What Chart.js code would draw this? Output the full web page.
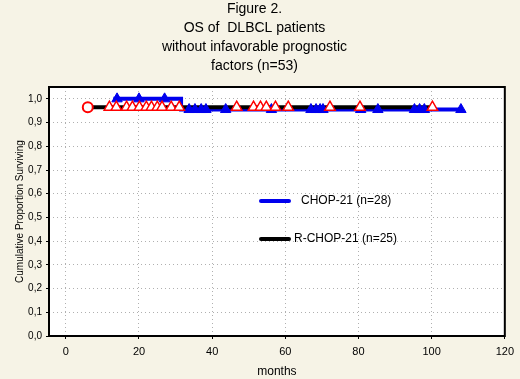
<!DOCTYPE html>
<html>
<head>
<meta charset="utf-8">
<script src="https://cdn.jsdelivr.net/npm/chart.js@4"></script>
<style>
  html, body { margin: 0; padding: 0; background: #f6f3e6; }
  #wrap { width: 520px; height: 379px; }
</style>
</head>
<body>
<div id="wrap"><canvas id="osChart" width="520" height="379"></canvas></div>
<script>
// survival curves (months, cumulative proportion surviving)
const chopMonths = [13, 31.5, 108];
const chopSurv = [1.0, 0.955, 0.955];
const rchopMonths = [6, 100];
const rchopSurv = [0.965, 0.965];

// event (complete) on R-CHOP curve
const rchopEventMonths = [6];

// censored observations
const chopCensored = [14, 20, 27, 33.7, 35.3, 37, 38.3, 43.7, 56.2, 67, 68.4, 69.5, 70.3, 80.6, 85.3, 95.3, 96.7, 98, 108];
const rchopCensored = [11.9, 13.8, 16.6, 18.2, 20.1, 22, 23.4, 25, 26.3, 28.8, 31, 46.7, 51.3, 53.2, 54.8, 57.3, 60.8, 72.2, 80.4, 100.2];

const xTicks = [0, 20, 40, 60, 80, 100, 120];
const yTicks = [0, 0.1, 0.2, 0.3, 0.4, 0.5, 0.6, 0.7, 0.8, 0.9, 1.0];

const seriesNames = ["CHOP-21 (n=28)", "R-CHOP-21 (n=25)"];

function stepValue(months, surv, t) {
  let v = surv[0];
  for (let i = 0; i < months.length; i++) {
    if (t >= months[i]) v = surv[i];
  }
  return v;
}

const toPoints = (xs, ys) => xs.map((x, i) => ({ x: x, y: ys[i] }));

const frame = {
  id: "frame",
  beforeDraw(chart) {
    const { ctx, chartArea: a } = chart;
    ctx.save();
    ctx.fillStyle = "#ffffff";
    ctx.fillRect(a.left, a.top, a.right - a.left, a.bottom - a.top);
    ctx.restore();
  },
  afterDraw(chart) {
    const { ctx, chartArea: a } = chart;
    ctx.save();
    ctx.strokeStyle = "#000";
    ctx.lineWidth = 2;
    ctx.strokeRect(a.left, a.top, a.right - a.left, a.bottom - a.top);

    // legend inside the plot
    const colors = ["#0000ee", "#000000"];
    const rows = [a.top + 114, a.top + 152];
    ctx.font = "12px 'Liberation Sans', Arial, sans-serif";
    ctx.textBaseline = "middle";
    seriesNames.forEach((name, i) => {
      ctx.strokeStyle = colors[i];
      ctx.lineWidth = 4;
      ctx.lineCap = "round";
      ctx.beginPath();
      ctx.moveTo(a.left + 212, rows[i]);
      ctx.lineTo(a.left + 240, rows[i]);
      ctx.stroke();
      ctx.fillStyle = "#000";
      ctx.fillText(name, a.left + (i === 0 ? 252 : 245), rows[i]);
    });
    ctx.restore();
  }
};

const font = "'Liberation Sans', Arial, sans-serif";

new Chart(document.getElementById("osChart"), {
  type: "scatter",
  data: {
    datasets: [
      {
        label: seriesNames[0],
        data: toPoints(chopMonths, chopSurv),
        showLine: true,
        stepped: true,
        borderColor: "#0000ee",
        borderWidth: 4,
        pointRadius: 0,
        order: 5
      },
      {
        label: seriesNames[1],
        data: toPoints(rchopMonths, rchopSurv),
        showLine: true,
        stepped: true,
        borderColor: "#000000",
        borderWidth: 4,
        pointRadius: 0,
        order: 4
      },
      {
        label: "CHOP-21 censored",
        data: chopCensored.map(t => ({ x: t, y: stepValue(chopMonths, chopSurv, t) })),
        pointStyle: "triangle",
        pointRadius: 6,
        backgroundColor: "#0000ee",
        borderColor: "#0000ee",
        borderWidth: 1,
        order: 3
      },
      {
        label: "R-CHOP-21 censored",
        data: rchopCensored.map(t => ({ x: t, y: stepValue(rchopMonths, rchopSurv, t) })),
        pointStyle: "triangle",
        pointRadius: 6,
        backgroundColor: "#ffffff",
        borderColor: "#ff0000",
        borderWidth: 1.5,
        order: 2
      },
      {
        label: "R-CHOP-21 event",
        data: rchopEventMonths.map(t => ({ x: t, y: stepValue(rchopMonths, rchopSurv, t) })),
        pointStyle: "circle",
        pointRadius: 5,
        backgroundColor: "#ffffff",
        borderColor: "#ff0000",
        borderWidth: 2,
        order: 1
      }
    ]
  },
  options: {
    responsive: false,
    animation: false,
    layout: { padding: { left: 0, right: 11, top: 0, bottom: 0 } },
    plugins: {
      legend: { display: false },
      tooltip: { enabled: false },
      title: {
        display: true,
        text: ["Figure 2.", "OS of  DLBCL patients", "without infavorable prognostic", "factors (n=53)"],
        color: "#000",
        font: { family: font, size: 14, weight: "normal", lineHeight: "19px" },
        padding: { top: 0, bottom: 11 }
      }
    },
    scales: {
      x: {
        type: "linear",
        min: -4.6,
        max: 120,
        afterBuildTicks: s => { s.ticks = xTicks.map(v => ({ value: v })); },
        ticks: {
          color: "#000",
          font: { family: font, size: 11 },
          padding: 6,
          maxRotation: 0
        },
        grid: {
          color: "#b0b0b0",
          tickLength: 3,
          tickColor: "#000"
        },
        border: { display: false, dash: [1, 3] },
        title: {
          display: true,
          text: "months",
          color: "#000",
          font: { family: font, size: 12 },
          padding: { top: 2, bottom: 0 }
        },
        afterFit: s => { s.height = 43; }
      },
      y: {
        min: 0,
        max: 1.05,
        afterBuildTicks: s => { s.ticks = yTicks.map(v => ({ value: v })); },
        ticks: {
          color: "#000",
          font: { family: font, size: 10 },
          padding: 4,
          callback: v => v.toFixed(1).replace(".", ",")
        },
        grid: {
          color: "#b0b0b0",
          tickLength: 3,
          tickColor: "#000"
        },
        border: { display: false, dash: [1, 3] },
        title: {
          display: true,
          text: "Cumulative Proportion Surviving",
          color: "#000",
          font: { family: font, size: 10 },
          padding: { top: 14, bottom: 0 }
        },
        afterFit: s => { s.width = 49; }
      }
    }
  },
  plugins: [frame]
});
</script>
</body>
</html>
